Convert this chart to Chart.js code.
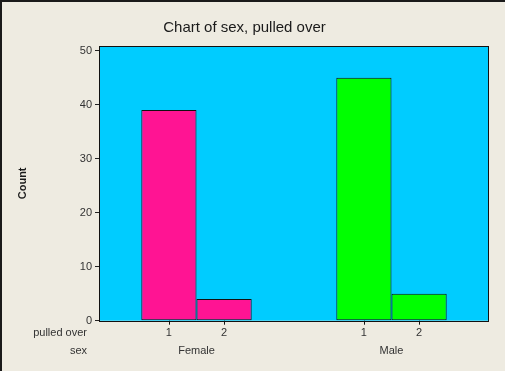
<!DOCTYPE html>
<html>
<head>
<meta charset="utf-8">
<script src="https://cdn.jsdelivr.net/npm/chart.js@4/dist/chart.umd.min.js"></script>
<style>
  html, body { margin: 0; padding: 0; background: #EEEBE1; }
  #wrap { position: relative; width: 505px; height: 371px; box-sizing: border-box;
          border-left: 2px solid #1a1a1a; border-top: 2px solid #1a1a1a; }
  canvas { position: absolute; left: -2px; top: -2px; }
</style>
</head>
<body>
<div id="wrap"><canvas id="c" width="505" height="371"></canvas></div>
<script>
// ---- data ----
const sexCategories = ['Female', 'Male'];
const pulledOverLevels = ['1', '2'];
const countsPulled1 = [39, 45];
const countsPulled2 = [4, 5];
const yTicks = [0, 10, 20, 30, 40, 50];
const sexColors = ['#FF1493', '#00FF00'];

const FONT = 'Liberation Sans, Arial, sans-serif';
const TXT = '#333333';

const decor = {
  id: 'decor',
  beforeDatasetsDraw(chart) {
    const a = chart.chartArea, ctx = chart.ctx;
    ctx.save();
    ctx.fillStyle = '#00CCFF';
    ctx.fillRect(a.left, a.top, a.right - a.left, a.bottom - a.top);
    ctx.restore();
  },
  afterDatasetsDraw(chart) {
    const a = chart.chartArea, ctx = chart.ctx;
    ctx.save();
    ctx.strokeStyle = '#111';
    ctx.lineWidth = 1;
    ctx.strokeRect(Math.round(a.left) + 0.5, Math.round(a.top) + 0.5,
                   Math.round(a.right - a.left) - 1, Math.round(a.bottom - a.top));
    // x tick marks and level labels under each bar
    ctx.font = '11px ' + FONT;
    ctx.fillStyle = TXT;
    ctx.textAlign = 'center';
    ctx.textBaseline = 'middle';
    chart.data.datasets.forEach((ds, di) => {
      chart.getDatasetMeta(di).data.forEach(bar => {
        const x = Math.round(bar.x) + 0.5;
        ctx.beginPath();
        ctx.moveTo(x, a.bottom);
        ctx.lineTo(x, a.bottom + 4);
        ctx.stroke();
        ctx.fillText(pulledOverLevels[di], bar.x, a.bottom + 12);
      });
    });
    ctx.textAlign = 'right';
    ctx.fillText('pulled over', 87, a.bottom + 12);
    ctx.fillText('sex', 87, a.bottom + 30);
    ctx.restore();
  }
};

new Chart(document.getElementById('c'), {
  type: 'bar',
  data: {
    labels: sexCategories,
    datasets: [
      { label: 'pulled over = 1', data: countsPulled1, backgroundColor: sexColors,
        borderColor: '#111', borderWidth: 1, borderSkipped: false },
      { label: 'pulled over = 2', data: countsPulled2, backgroundColor: sexColors,
        borderColor: '#111', borderWidth: 1, borderSkipped: false }
    ]
  },
  options: {
    responsive: false,
    animation: false,
    layout: { padding: { left: 0, right: 16, top: 0, bottom: 0 } },
    categoryPercentage: 0.566,
    barPercentage: 1.0,
    plugins: {
      legend: { display: false },
      tooltip: { enabled: false },
      title: {
        display: true,
        text: 'Chart of sex, pulled over',
        color: '#1a1a1a',
        font: { family: FONT, size: 15, weight: 'normal' },
        padding: { top: 19, bottom: 9 }
      }
    },
    scales: {
      x: {
        grid: { display: false, drawTicks: false },
        border: { display: false },
        ticks: { color: TXT, font: { family: FONT, size: 11 }, padding: 24 },
        afterFit(s) { s.height = 50.3; }
      },
      y: {
        min: 0,
        max: 50.87,
        afterBuildTicks(s) { s.ticks = yTicks.map(v => ({ value: v })); },
        grid: { drawOnChartArea: false, tickLength: 4, color: '#222' },
        border: { display: false },
        ticks: { color: TXT, font: { family: FONT, size: 11 }, padding: 3 },
        title: {
          display: true, text: 'Count', color: '#1a1a1a',
          font: { family: FONT, size: 11, weight: 'bold' },
          padding: { top: 16, bottom: 0 }
        },
        afterFit(s) { s.width = 99; }
      }
    }
  },
  plugins: [decor]
});
</script>
</body>
</html>
